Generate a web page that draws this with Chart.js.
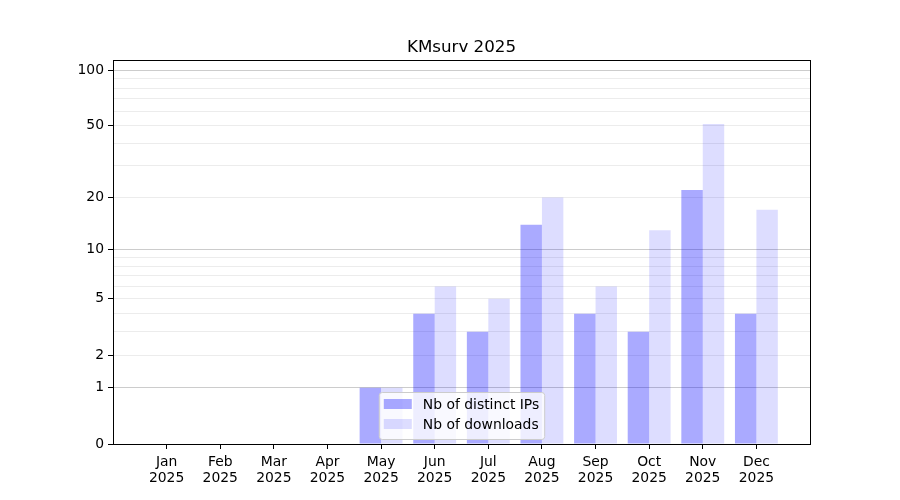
<!DOCTYPE html>
<html lang="en">
<head>
<meta charset="UTF-8">
<title>KMsurv 2025</title>
<style>
    body {
        margin: 0;
        background: #ffffff;
    }
    #chartBox {
        width: 900px;
        height: 500px;
    }
</style>
<script src="https://cdn.jsdelivr.net/npm/chart.js"></script>
</head>
<body>

<div id="chartBox">
    <canvas id="barChart"></canvas>
</div>

<script>
var titleText = 'KMsurv 2025';
var months = ['Jan', 'Feb', 'Mar', 'Apr', 'May', 'Jun', 'Jul', 'Aug', 'Sep', 'Oct', 'Nov', 'Dec'];
var year = '2025';
var distinctIPs = [0, 0, 0, 0, 1, 4, 3, 14, 4, 3, 22, 4];
var downloads = [0, 0, 0, 0, 1, 6, 5, 20, 6, 13, 51, 17];
var seriesNames = ['Nb of distinct IPs', 'Nb of downloads'];
var yTicks = [0, 1, 2, 5, 10, 20, 50, 100];
var yMinorTicks = [3, 4, 6, 7, 8, 9, 30, 40, 60, 70, 80, 90];
var yDarkGrid = [1, 10, 100];
var yTop = 113.5;

var FONT = 'DejaVu Sans';

// y axis is log10(1 + v), the same look as the original symlog axis
function fwd(v) { return Math.log10(1 + v); }
function inv(t) { return Math.round(Math.pow(10, t) - 1); }

function toPoints(values) {
    return values.map(function(v, i) { return { x: i, y: fwd(v) }; });
}

// frame, title and the legend box inside the plot
var decorPlugin = {
    id: 'decor',
    afterDraw: function(chart) {
        var ctx = chart.ctx;
        var a = chart.chartArea;
        ctx.save();

        ctx.strokeStyle = '#000000';
        ctx.lineWidth = 1;
        ctx.strokeRect(Math.round(a.left) + 0.5, Math.round(a.top) + 0.5,
            Math.round(a.right - a.left), Math.round(a.bottom - a.top));

        ctx.fillStyle = '#000000';
        ctx.font = '16.7px "' + FONT + '"';
        ctx.textAlign = 'center';
        ctx.textBaseline = 'alphabetic';
        ctx.fillText(titleText, (a.left + a.right) / 2, a.top - 8);

        ctx.font = '13.9px "' + FONT + '"';
        var textW = 0;
        chart.data.datasets.forEach(function(ds) {
            textW = Math.max(textW, ctx.measureText(ds.label).width);
        });
        var w = 5 + 28 + 11 + textW + 5;
        var h = 47;
        var x0 = (a.left + a.right) / 2 - w / 2;
        var y0 = a.bottom - 5 - h;

        ctx.beginPath();
        ctx.roundRect(x0 + 0.5, y0 + 0.5, w, h, 3);
        ctx.fillStyle = 'rgba(255,255,255,0.8)';
        ctx.fill();
        ctx.strokeStyle = '#cccccc';
        ctx.stroke();

        ctx.textAlign = 'left';
        ctx.textBaseline = 'middle';
        chart.data.datasets.forEach(function(ds, i) {
            var cy = y0 + 12 + i * 20;
            ctx.fillStyle = ds.backgroundColor;
            ctx.fillRect(x0 + 5, cy - 5, 28, 10);
            ctx.fillStyle = '#000000';
            ctx.fillText(ds.label, x0 + 44, cy + 1);
        });
        ctx.restore();
    }
};

var ctx = document.getElementById('barChart').getContext('2d');

new Chart(ctx, {
    type: 'bar',
    data: {
        datasets: [{
            label: seriesNames[0],
            data: toPoints(distinctIPs),
            backgroundColor: 'rgba(0,0,255,0.333)',
            borderWidth: 0
        }, {
            label: seriesNames[1],
            data: toPoints(downloads),
            backgroundColor: 'rgba(0,0,255,0.135)',
            borderWidth: 0
        }]
    },
    options: {
        responsive: true,
        maintainAspectRatio: false,
        animation: false,
        events: [],
        categoryPercentage: 0.8,
        barPercentage: 1.0,
        layout: {
            padding: { left: 60, right: 90, top: 60, bottom: 5 }
        },
        plugins: {
            legend: { display: false },
            title: { display: false },
            tooltip: { enabled: false }
        },
        scales: {
            x: {
                type: 'linear',
                min: -1,
                max: 12,
                offset: false,
                afterBuildTicks: function(scale) {
                    scale.ticks = months.map(function(m, i) { return { value: i }; });
                },
                afterFit: function(scale) { scale.height = 51; },
                ticks: {
                    autoSkip: false,
                    maxRotation: 0,
                    padding: 5,
                    color: '#000000',
                    font: { family: FONT, size: 13.9, lineHeight: 1.15 },
                    callback: function(value) { return [months[value], year]; }
                },
                grid: {
                    offset: false,
                    drawOnChartArea: false,
                    tickLength: 5,
                    tickColor: '#000000'
                },
                border: { display: true, color: '#000000' }
            },
            y: {
                type: 'linear',
                min: 0,
                max: fwd(yTop),
                afterBuildTicks: function(scale) {
                    scale.ticks = yTicks.concat(yMinorTicks).map(function(v) {
                        return { value: fwd(v) };
                    });
                },
                afterFit: function(scale) { scale.width = 53; },
                ticks: {
                    autoSkip: false,
                    padding: 4,
                    color: '#000000',
                    font: { family: FONT, size: 13.9 },
                    callback: function(value) {
                        var v = inv(value);
                        return yTicks.indexOf(v) >= 0 ? String(v) : '';
                    }
                },
                grid: {
                    offset: false,
                    tickLength: 5,
                    color: function(c) {
                        var v = inv(c.tick.value);
                        if (v === 0) return 'rgba(0,0,0,0)';
                        return yDarkGrid.indexOf(v) >= 0 ? '#cccccc' : '#ececec';
                    },
                    tickColor: function(c) {
                        var v = inv(c.tick.value);
                        return yTicks.indexOf(v) >= 0 ? '#000000' : 'rgba(0,0,0,0)';
                    }
                },
                border: { display: true, color: '#000000' }
            }
        }
    },
    plugins: [decorPlugin]
});
</script>
</body>
</html>
